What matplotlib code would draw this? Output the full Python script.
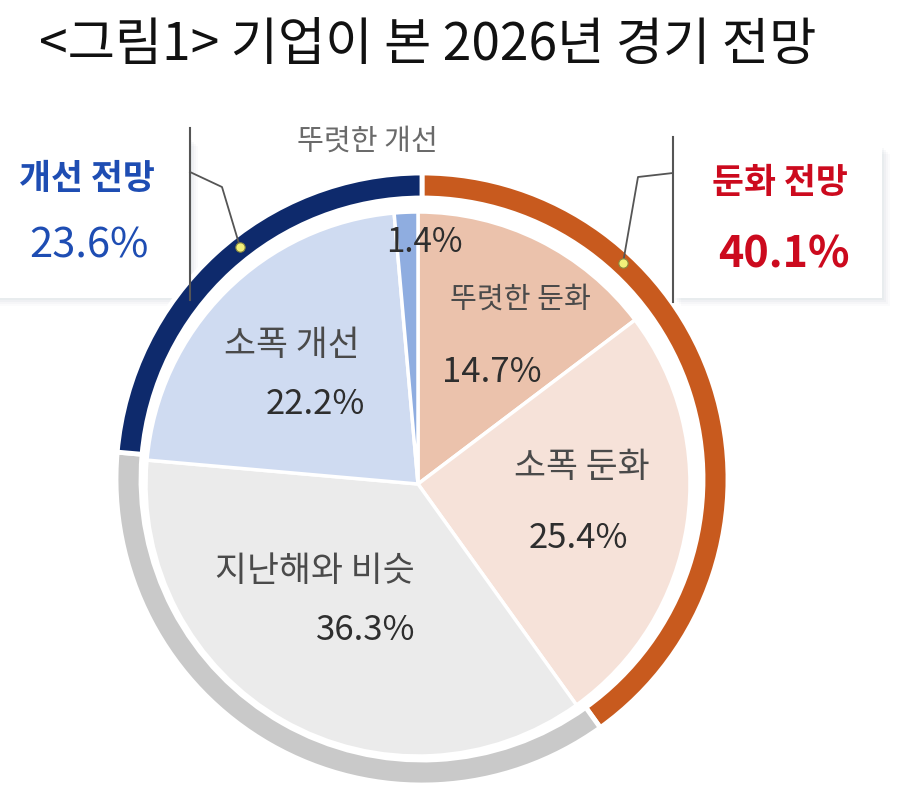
import matplotlib
matplotlib.use("Agg")
import matplotlib.pyplot as plt
from matplotlib.patches import Rectangle

plt.rcParams['font.family'] = ['Noto Sans CJK KR', 'DejaVu Sans']

# Data
title = '<그림1> 기업이 본 2026년 경기 전망'
inner_labels = ['뚜렷한 둔화', '소폭 둔화', '지난해와 비슷', '소폭 개선', '뚜렷한 개선']
inner_values = [14.7, 25.4, 36.3, 22.2, 1.4]
inner_colors = ['#EBC2AC', '#F6E2D9', '#EBEBEB', '#CFDBF1', '#8FADE0']

outer_labels = ['둔화 전망', '지난해와 비슷', '개선 전망']
outer_values = [40.1, 36.3, 23.6]
outer_colors = ['#C85A1E', '#C9C9C9', '#0E2A6C']

H = 794  # figure height in px, used to flip y

fig = plt.figure(figsize=(9, 7.94), dpi=100)
ax = fig.add_axes([0, 0, 1, 1])

# callout boxes (drawn first, ring sits over them)
def box(x0, y0, x1, y1):
    for i, a in enumerate([0.05, 0.05, 0.04, 0.03]):
        d = 2 + i * 2
        ax.add_patch(Rectangle((x0 + d, H - y1 - d), x1 - x0, y1 - y0,
                               facecolor='#8090a8', alpha=a, lw=0, zorder=1))
    ax.add_patch(Rectangle((x0, H - y1), x1 - x0, y1 - y0,
                           facecolor='white', lw=0, zorder=2))

box(-10, 138, 190, 298)
box(673, 146, 882, 298)

# outer ring
ax.pie(outer_values, colors=outer_colors, startangle=90, counterclock=False,
       radius=306, center=(422, H - 479),
       wedgeprops=dict(width=25, edgecolor='white', linewidth=3.5, zorder=3))

# inner pie
ax.pie(inner_values, colors=inner_colors, startangle=90, counterclock=False,
       radius=272, center=(418, H - 484),
       wedgeprops=dict(edgecolor='white', linewidth=2.5, zorder=3))

ax.set_xlim(0, 900)
ax.set_ylim(0, H)
ax.set_aspect('equal')
ax.axis('off')

# bracket lines and leaders
ax.plot([190, 190], [H - 128, H - 300], color='#555555', lw=1.5, zorder=4)
ax.plot([673, 673], [H - 137, H - 302], color='#555555', lw=1.5, zorder=4)
ax.plot([190, 222, 240], [H - 172, H - 187, H - 247], color='#555555', lw=1.3, zorder=4)
ax.plot([673, 638, 623], [H - 173, H - 177, H - 263], color='#555555', lw=1.3, zorder=4)
ax.scatter([240, 623], [H - 247, H - 263], s=45, color='#F2F07A',
           edgecolor='#8a8a40', lw=0.8, zorder=5)

# title
ax.text(428, H - 45, title, ha='center', va='center', fontsize=37,
        fontweight='medium', color='#111111')

# inner labels
lab_c = '#4a4a4a'
num_c = '#2e2e2e'
ax.text(367, H - 142, inner_labels[4], ha='center', va='center', fontsize=21, color='#6a6a6a')
ax.text(424, H - 242, f'{inner_values[4]}%', ha='center', va='center', fontsize=24, color=num_c)
ax.text(520, H - 300, inner_labels[0], ha='center', va='center', fontsize=21, color=lab_c)
ax.text(492, H - 373, f'{inner_values[0]}%', ha='center', va='center', fontsize=25, color=num_c)
ax.text(582, H - 467, inner_labels[1], ha='center', va='center', fontsize=25, color=lab_c)
ax.text(578, H - 538, f'{inner_values[1]}%', ha='center', va='center', fontsize=25, color=num_c)
ax.text(315, H - 572, inner_labels[2], ha='center', va='center', fontsize=25, color=lab_c)
ax.text(366, H - 630, f'{inner_values[2]}%', ha='center', va='center', fontsize=25, color=num_c)
ax.text(292, H - 345, inner_labels[3], ha='center', va='center', fontsize=25, color=lab_c)
ax.text(315, H - 404, f'{inner_values[3]}%', ha='center', va='center', fontsize=25, color=num_c)

# group callouts
ax.text(87, H - 178, outer_labels[2], ha='center', va='center', fontsize=25,
        fontweight='bold', color='#1E4DB3')
ax.text(89, H - 246, f'{outer_values[2]}%', ha='center', va='center', fontsize=30,
        fontweight='medium', color='#1E4DB3')
ax.text(780, H - 182, outer_labels[0], ha='center', va='center', fontsize=25,
        fontweight='bold', color='#CC0A1E')
ax.text(784, H - 254, f'{outer_values[0]}%', ha='center', va='center', fontsize=31,
        fontweight='bold', color='#CC0A1E')

fig.savefig('out.png', dpi=100)
